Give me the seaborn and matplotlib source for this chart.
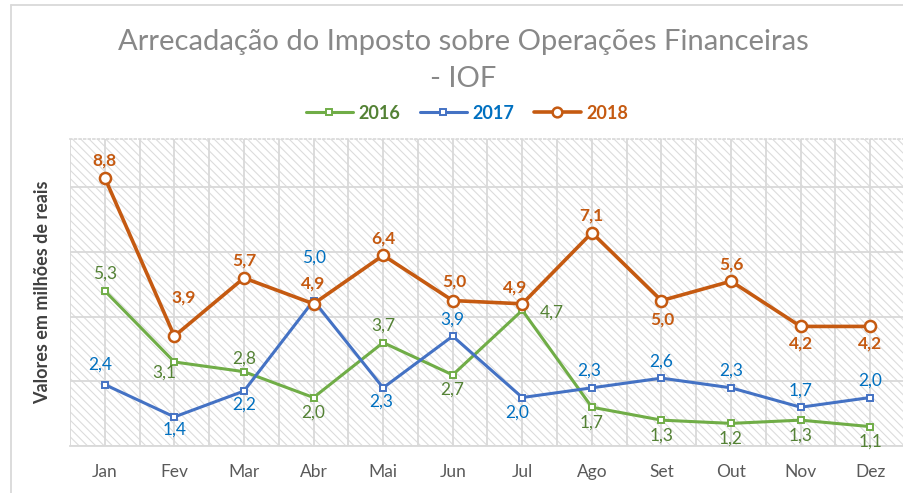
import matplotlib
matplotlib.use("Agg")
import matplotlib.pyplot as plt
from matplotlib.patches import Rectangle
from matplotlib.lines import Line2D
import seaborn as sns
import pandas as pd

months = ["Jan", "Fev", "Mar", "Abr", "Mai", "Jun", "Jul", "Ago", "Set", "Out", "Nov", "Dez"]
iof_2016 = [5.3, 3.1, 2.8, 2.0, 3.7, 2.7, 4.7, 1.7, 1.3, 1.2, 1.3, 1.1]
iof_2017 = [2.4, 1.4, 2.2, 5.0, 2.3, 3.9, 2.0, 2.3, 2.6, 2.3, 1.7, 2.0]
iof_2018 = [8.8, 3.9, 5.7, 4.9, 6.4, 5.0, 4.9, 7.1, 5.0, 5.6, 4.2, 4.2]
years = ["2016", "2017", "2018"]

sns.set_theme(style="white")
plt.rcParams["font.family"] = ["Lato", "DejaVu Sans"]
plt.rcParams["hatch.linewidth"] = 0.8
plt.rcParams["hatch.color"] = "#dcdcdc"

line_colors = {"2016": "#70AD47", "2017": "#4472C4", "2018": "#C55A11"}
text_colors = {"2016": "#548235", "2017": "#0070C0", "2018": "#C55A11"}

fig = plt.figure(figsize=(9.04, 4.93), dpi=100)
ax = fig.add_axes([70 / 904, 1 - 446 / 493, 835 / 904, (446 - 139) / 493])

# hatched plot background
bg = Rectangle((0, 0), 1, 1, transform=ax.transAxes, facecolor="white",
               edgecolor="#dcdcdc", hatch="\\" * 4, linewidth=0, zorder=0)
ax.add_patch(bg)

df = pd.DataFrame({
    "Mes": months * 3,
    "Valor": iof_2016 + iof_2017 + iof_2018,
    "Ano": ["2016"] * 12 + ["2017"] * 12 + ["2018"] * 12,
})

styles = {
    "2016": dict(marker="s", markersize=5, linewidth=2.2, markeredgewidth=1.4),
    "2017": dict(marker="s", markersize=5, linewidth=2.2, markeredgewidth=1.4),
    "2018": dict(marker="o", markersize=8, linewidth=2.6, markeredgewidth=1.8),
}
for yr in years:
    sub = df[df["Ano"] == yr]
    sns.lineplot(data=sub, x="Mes", y="Valor", ax=ax, color=line_colors[yr],
                 markerfacecolor="white", markeredgecolor=line_colors[yr],
                 sort=False, legend=False, zorder=3, **styles[yr])

# label offsets in pixels (dx, dy) relative to each point
up, dn = 17, -15
offsets = {
    "2016": [(0, up), (-10, -11), (0, 13), (0, dn), (0, up), (0, dn),
             (30, -2), (0, dn), (0, dn), (0, dn), (0, dn), (0, dn)],
    "2017": [(-5, 20), (0, -13), (0, -14), (0, 43), (-2, -14), (0, up),
             (-5, dn), (-3, up), (0, 17), (0, up), (0, up), (0, up)],
    "2018": [(0, 17), (9, 39), (0, up), (0, 20), (0, up), (2, 19),
             (-7, 16), (0, up), (1, -19), (0, up), (0, -17), (0, -17)],
}
series = {"2016": iof_2016, "2017": iof_2017, "2018": iof_2018}
for yr in years:
    for i, v in enumerate(series[yr]):
        dx, dy = offsets[yr][i]
        ax.annotate(f"{v:.1f}".replace(".", ","), (i, v),
                    xytext=(dx * 0.72, dy * 0.72), textcoords="offset points",
                    ha="center", va="center", fontsize=12.5,
                    color=text_colors[yr],
                    fontweight="bold" if yr == "2018" else "normal", zorder=4)

ax.set_xlim(-0.5, 11.5)
ax.set_ylim(0.5, 10.0)
ax.set_yticks([0.5, 2.5, 4.5, 6.5, 8.5])
ax.set_yticklabels([])
ax.set_xticks(range(12))
ax.set_xticks([i - 0.5 for i in range(13)], minor=True)
ax.grid(True, which="major", color="#d9d9d9", linewidth=1.3, zorder=1)
ax.grid(True, which="minor", axis="x", color="#d9d9d9", linewidth=1.3, zorder=1)
ax.set_axisbelow(True)
ax.tick_params(axis="x", which="major", length=0, pad=13, labelsize=12.5,
               labelcolor="#595959")
ax.tick_params(axis="x", which="minor", length=6, color="#d9d9d9", width=1.3,
               direction="out")
ax.tick_params(axis="y", length=0)
ax.set_xlabel("")
ax.set_ylabel("Valores em milhões de reais", fontsize=13, fontweight="bold",
              color="#404040", labelpad=10)
for s in ["left", "right"]:
    ax.spines[s].set_visible(False)
ax.spines["top"].set_color("#d9d9d9")
ax.spines["top"].set_linestyle(":")
ax.spines["bottom"].set_color("#d9d9d9")
ax.spines["bottom"].set_linewidth(1.3)

title_x = 463 / 904
fig.text(title_x, 1 - 42 / 493, "Arrecadação do Imposto sobre Operações Financeiras",
         ha="center", va="center", fontsize=21, color="#888888")
fig.text(title_x, 1 - 79 / 493, "- IOF", ha="center", va="center", fontsize=21,
         color="#888888")

handles = [Line2D([], [], color=line_colors[yr], linewidth=styles[yr]["linewidth"],
                  marker=styles[yr]["marker"], markersize=styles[yr]["markersize"] - 1,
                  markerfacecolor="white", markeredgecolor=line_colors[yr],
                  markeredgewidth=styles[yr]["markeredgewidth"])
           for yr in years]
leg = fig.legend(handles, years, loc="center", bbox_to_anchor=(467 / 904, 1 - 113 / 493),
                 ncol=3, frameon=False, fontsize=13, handlelength=2.6,
                 handletextpad=0.3, columnspacing=1.1)
for txt, yr in zip(leg.get_texts(), years):
    txt.set_color(text_colors[yr])
    txt.set_fontweight("bold")

# outer chart border
fig.add_artist(Line2D([11 / 904, 11 / 904], [0, 1 - 5 / 493],
                      transform=fig.transFigure, color="#d9d9d9", linewidth=1.3))
fig.add_artist(Line2D([11 / 904, 1], [1 - 5 / 493, 1 - 5 / 493],
                      transform=fig.transFigure, color="#d9d9d9", linewidth=1.3))

fig.savefig("out.png", dpi=100)
